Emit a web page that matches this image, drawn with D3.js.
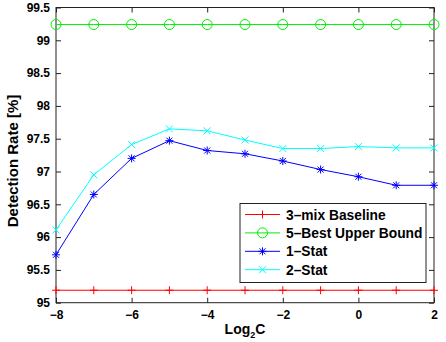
<!DOCTYPE html>
<html><head><meta charset="utf-8">
<script src="https://cdn.jsdelivr.net/npm/d3@7"></script>
<style>body{margin:0;background:#fff}svg{display:block}text{font-family:"Liberation Sans",Arial,sans-serif;font-weight:bold}</style>
</head><body><svg id="c" width="446" height="342"></svg>
<script>
const xs = [-8,-7,-6,-5,-4,-3,-2,-1,0,1,2];
const baseline = [95.19,95.19,95.19,95.19,95.19,95.19,95.19,95.19,95.19,95.19,95.19];
const upper = [99.24,99.24,99.24,99.24,99.24,99.24,99.24,99.24,99.24,99.24,99.24];
const stat1 = [95.73,96.65,97.2,97.47,97.32,97.27,97.16,97.03,96.92,96.79,96.79];
const stat2 = [96.11,96.95,97.41,97.65,97.62,97.48,97.35,97.35,97.38,97.36,97.36];
const xTicks = [-8,-6,-4,-2,0,2];
const yTicks = [95,95.5,96,96.5,97,97.5,98,98.5,99,99.5];
const names = ["3\u2013mix Baseline","5\u2013Best Upper Bound","1\u2013Stat","2\u2013Stat"];
const colors = ["#ff0000","#00ee00","#0000ff","#00ffff"];
const markers = ["plus","circle","star","cross"];

const svg = d3.select("#c");
const L=56,R=434,T=7.5,B=302.7;
const x = d3.scaleLinear().domain([-8,2]).range([L,R]);
const y = d3.scaleLinear().domain([95,99.5]).range([B,T]);

svg.append("rect").attr("x",L).attr("y",T).attr("width",R-L).attr("height",B-T)
  .attr("fill","none").attr("stroke","#222").attr("stroke-width",1);
const tl=5;
const gx = svg.append("g").attr("transform",`translate(0,${B})`)
  .call(d3.axisBottom(x).tickValues(xTicks).tickSize(-tl).tickPadding(8).tickFormat(d=>d<0?"\u2212"+(-d):d));
const gxt = svg.append("g").attr("transform",`translate(0,${T})`)
  .call(d3.axisTop(x).tickValues(xTicks).tickSize(-tl).tickFormat(""));
const gy = svg.append("g").attr("transform",`translate(${L},0)`)
  .call(d3.axisLeft(y).tickValues(yTicks).tickSize(-tl).tickPadding(6).tickFormat(d=>d));
const gyr = svg.append("g").attr("transform",`translate(${R},0)`)
  .call(d3.axisRight(y).tickValues(yTicks).tickSize(-tl).tickFormat(""));
[gx,gxt,gy,gyr].forEach(g=>{g.select(".domain").remove();g.selectAll(".tick line").attr("stroke","#222");
  g.selectAll("text").attr("font-size",12).attr("fill","#000").style("font-family","'Liberation Sans',Arial,sans-serif").style("font-weight","bold");});

function marker(g,type,cx,cy,color){
  const s=4;
  if(type==="plus"){g.append("path").attr("d",`M${cx-s},${cy}H${cx+s}M${cx},${cy-s}V${cy+s}`).attr("stroke",color);}
  else if(type==="circle"){g.append("circle").attr("cx",cx).attr("cy",cy).attr("r",5).attr("fill","none").attr("stroke",color);}
  else if(type==="cross"){g.append("path").attr("d",`M${cx-3.5},${cy-3.5}L${cx+3.5},${cy+3.5}M${cx-3.5},${cy+3.5}L${cx+3.5},${cy-3.5}`).attr("stroke",color);}
  else {g.append("path").attr("d",`M${cx-s},${cy}H${cx+s}M${cx},${cy-s}V${cy+s}M${cx-3},${cy-3}L${cx+3},${cy+3}M${cx-3},${cy+3}L${cx+3},${cy-3}`).attr("stroke",color);}
}
const series=[baseline,upper,stat1,stat2];
const line=d3.line().x((d,i)=>x(xs[i])).y(d=>y(d));
series.forEach((s,k)=>{
  const g=svg.append("g");
  g.append("path").datum(s).attr("d",line).attr("fill","none").attr("stroke",colors[k]).attr("stroke-width",1);
  s.forEach((v,i)=>marker(g,markers[k],x(xs[i]),y(v),colors[k]));
});

const lg=svg.append("g");
lg.append("rect").attr("x",240).attr("y",203.5).attr("width",186).attr("height",79).attr("fill","#fff").attr("stroke","#222");
names.forEach((n,k)=>{
  const yy=214.5+k*18.4;
  lg.append("line").attr("x1",245).attr("x2",280).attr("y1",yy).attr("y2",yy).attr("stroke",colors[k]);
  marker(lg,markers[k],262.5,yy,colors[k]);
  lg.append("text").attr("x",286).attr("y",yy+5).attr("font-size",13.8).text(n);
});

svg.append("text").attr("transform","translate(18,161) rotate(-90)").attr("text-anchor","middle").attr("font-size",15).text("Detection Rate [%]");
const xl=svg.append("text").attr("x",245).attr("y",334).attr("text-anchor","middle").attr("font-size",14);
xl.append("tspan").text("Log");
xl.append("tspan").attr("font-size",9).attr("dy",4).text("2");
xl.append("tspan").attr("dy",-4).text("C");
</script></body></html>
